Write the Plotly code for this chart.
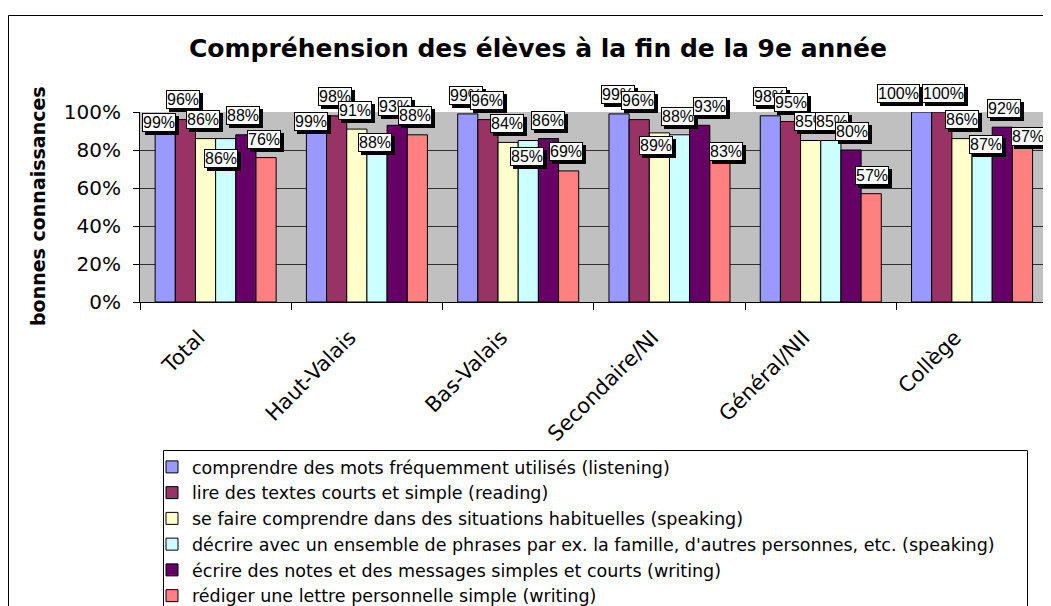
import plotly.graph_objects as go

categories = ["Total", "Haut-Valais", "Bas-Valais", "Secondaire/NI", "Général/NII", "Collège"]
series_names = [
    "comprendre des mots fréquemment utilisés (listening)",
    "lire des textes courts et simple (reading)",
    "se faire comprendre dans des situations habituelles (speaking)",
    "décrire avec un ensemble de phrases par ex. la famille, d'autres personnes, etc. (speaking)",
    "écrire des notes et des messages simples et courts (writing)",
    "rédiger une lettre personnelle simple (writing)",
]
listening = [0.99, 0.99, 0.99, 0.99, 0.98, 1.00]
reading = [0.96, 0.98, 0.96, 0.96, 0.95, 1.00]
speaking1 = [0.86, 0.91, 0.84, 0.89, 0.85, 0.86]
speaking2 = [0.86, 0.88, 0.85, 0.88, 0.85, 0.87]
writing1 = [0.88, 0.93, 0.86, 0.93, 0.80, 0.92]
writing2 = [0.76, 0.88, 0.69, 0.83, 0.57, 0.87]
series_values = [listening, reading, speaking1, speaking2, writing1, writing2]
y_tickvals = [0, 0.2, 0.4, 0.6, 0.8, 1.0]
y_ticktext = ["0%", "20%", "40%", "60%", "80%", "100%"]

colors = ["#9999FF", "#993366", "#FFFFCC", "#CCFFFF", "#660066", "#FF8080"]

# label offsets in pixels (dx right, dy = label centre above bar top), per series then category
label_offsets = [
    [(-5, -10), (-4, -9), (0, 17), (0.5, 17.8), (1.5, 18.3), (-22, 17.5)],
    [(-1, 18.8), (-0.4, 17.8), (0.3, 18), (0.3, 17.6), (2, 17.9), (3, 17.5)],
    [(-1, 17.5), (-0.2, 17.5), (0, 17.4), (-2.3, -14), (1.4, 17.4), (2, 17.5)],
    [(-3, -21), (-0.4, -9.3), (0.6, -17.3), (0.2, 17.3), (2.2, 17.4), (5, -9)],
    [(-1, 17.8), (-0.5, 17.5), (0.9, 17), (12, 17.8), (2, 17.2), (2.7, 17.7)],
    [(-0.5, 16.5), (-1.2, 18.3), (-0.8, 17.8), (8, -8.5), (2.3, 17.2), (7, -1)],
]

# the page body has an 8px margin: figure coordinates = screen coordinates - 8
OFF = 8
W, H = 1051 - OFF, 606 - OFF
PL, PR, PT, PB = 140 - OFF, 1048 - OFF, 112 - OFF, 302 - OFF
pw, ph = PR - PL, PB - PT
FONT = "DejaVu Sans, Verdana, sans-serif"
LFONT = "Arial, Liberation Sans, sans-serif"


def px_x(p):
    return (p - OFF - PL) / pw


def px_y(p):
    return (PB - (p - OFF)) / ph


fig = go.Figure()
for name, vals, col in zip(series_names, series_values, colors):
    fig.add_trace(go.Bar(
        x=categories, y=vals, name=name,
        marker=dict(color=col, line=dict(color="black", width=1)),
    ))

n_series = len(series_values)
group_w = pw / len(categories)
bar_w = group_w * 0.8 / n_series
annotations = []
for j, vals in enumerate(series_values):
    for i, v in enumerate(vals):
        dx, dy = label_offsets[j][i]
        xs = (j - (n_series - 1) / 2) * bar_w + dx - 1.5
        ys = dy + 1.5
        txt = f"{round(v * 100)}%"
        common = dict(x=categories[i], y=v, xref="x", yref="y", showarrow=False,
                      borderpad=0, borderwidth=1, xanchor="center", yanchor="middle")
        annotations.append(dict(common, text=txt, xshift=xs + 3, yshift=ys - 3,
                                bgcolor="black", bordercolor="black",
                                font=dict(family=LFONT, size=16, color="black")))
        annotations.append(dict(common, text=txt, xshift=xs, yshift=ys,
                                bgcolor="white", bordercolor="black",
                                font=dict(family=LFONT, size=16, color="black")))

annotations.append(dict(
    text="<b>bonnes connaissances</b>", textangle=-90, x=px_x(38), y=px_y(206),
    xref="paper", yref="paper", showarrow=False, xanchor="center", yanchor="middle",
    font=dict(family=FONT, size=19, color="black")))

fig.update_layout(
    width=W, height=H,
    margin=dict(l=PL, r=W - PR, t=PT, b=H - PB, autoexpand=False),
    paper_bgcolor="white", plot_bgcolor="#C0C0C0",
    barmode="group", bargap=0.2, bargroupgap=0,
    title=dict(text="<b>Compréhension des élèves à la fin de la 9e année</b>",
               x=px_x(538), xref="paper", xanchor="center",
               y=1 - (48 - OFF) / H, yref="container", yanchor="middle",
               font=dict(family=FONT, size=25, color="black")),
    showlegend=True,
    legend=dict(x=px_x(152), y=px_y(449), xanchor="left", yanchor="top",
                bgcolor="rgba(0,0,0,0)", borderwidth=0,
                font=dict(family=FONT, size=17.5, color="black"),
                tracegroupgap=0, itemwidth=30),
    annotations=annotations,
    shapes=[
        dict(type="rect", xref="paper", yref="paper",
             x0=px_x(8.5), x1=px_x(1080), y0=px_y(15.5), y1=px_y(660),
             line=dict(color="black", width=1), layer="below"),
        dict(type="rect", xref="paper", yref="paper",
             x0=px_x(163.5), x1=px_x(1027.5), y0=px_y(450.5), y1=px_y(660),
             line=dict(color="black", width=1), fillcolor="white", layer="below"),
    ],
)
fig.update_xaxes(
    type="category", tickangle=-45, tickson="boundaries", ticks="outside", ticklen=7,
    tickcolor="black", showline=True, linecolor="black", linewidth=1,
    ticklabelshift=-17, ticklabelstandoff=14,
    tickfont=dict(family=FONT, size=21, color="black"), showgrid=False,
)
fig.update_yaxes(
    range=[0, 1.0], tickvals=y_tickvals, ticktext=y_ticktext, ticks="outside", ticklen=6,
    tickcolor="black", showline=True, linecolor="black", linewidth=1,
    showgrid=True, gridcolor="#303030", gridwidth=1, zeroline=False,
    ticklabelstandoff=8,
    tickfont=dict(family=FONT, size=20, color="black"),
)
fig.write_html("out.html")
